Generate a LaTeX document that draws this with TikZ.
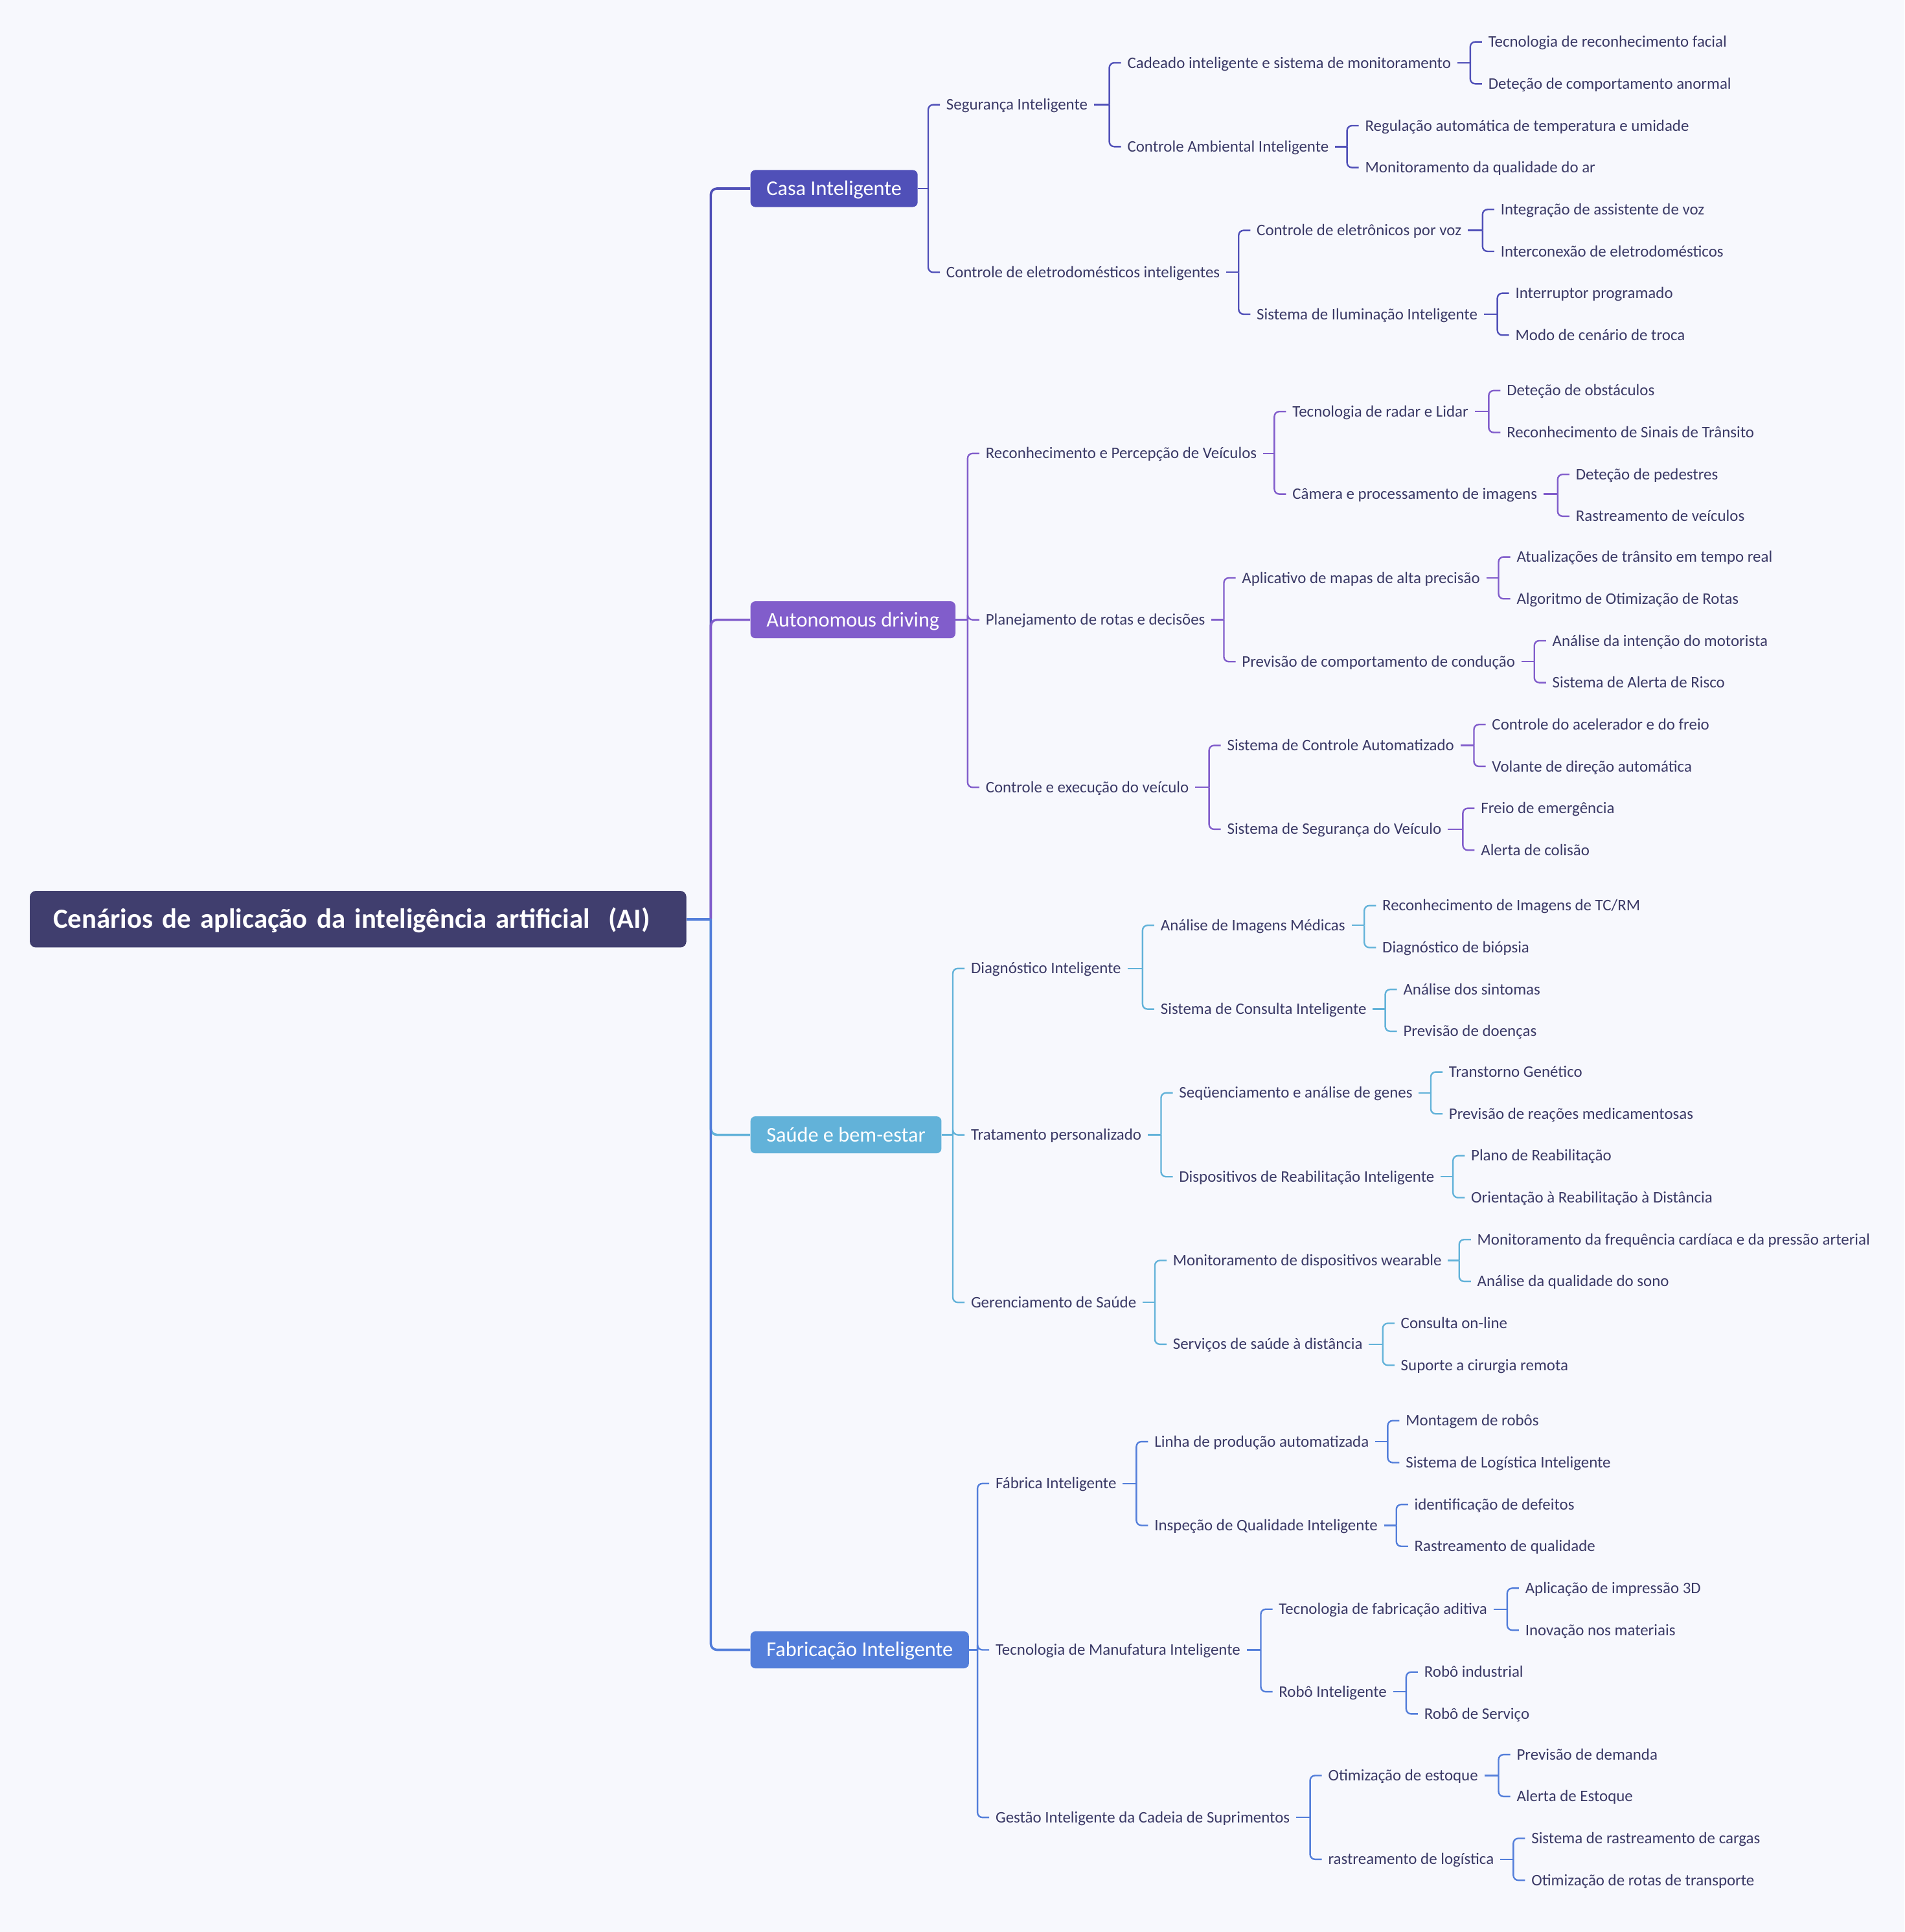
\documentclass[tikz,border=0pt]{standalone}
\usepackage{fontspec}
\setmainfont{Carlito}
\definecolor{bgc}{HTML}{F7F8FD}
\definecolor{rootc}{HTML}{403E6E}
\definecolor{txt}{HTML}{3A3966}
\definecolor{casac}{HTML}{5050B8}
\definecolor{autoc}{HTML}{815DCB}
\definecolor{saudec}{HTML}{62B2D9}
\definecolor{fabc}{HTML}{537EDA}
\tikzset{
  lbl/.style={anchor=west, inner sep=0pt, text height=8.5pt, text depth=0pt, font=\fontsize{13.1}{15}\selectfont, text=txt},
  lone/.style={anchor=west, rounded corners=4pt, minimum height=30pt, inner xsep=13pt, inner ysep=0pt, text height=11pt, text depth=0pt, font=\fontsize{17}{19}\selectfont, text=white},
  rootbox/.style={anchor=west, fill=rootc, rounded corners=5pt, minimum height=46pt, inner xsep=19pt, inner ysep=0pt, text width=495pt, align=left, text height=14.5pt, text depth=0pt, font=\bfseries\fontsize{22.5}{26}\selectfont, text=white},
  trunk/.style={line width=1.9pt, rounded corners=5pt},
  br/.style={line width=1.25pt, rounded corners=4pt},
}
\newcommand\fork[4]{%
  \foreach \kid in {#4}{\coordinate (bx) at ([xshift=-14.5pt]\kid.west);}
  \draw[br,#1] ([xshift=#3]#2.east) -- (#2.east -| bx);
  \foreach \kid in {#4}{\draw[br,#1] (#2.east -| bx) |- ([xshift=-5pt]\kid.west);}
}
\begin{document}
\begin{tikzpicture}[x=1pt,y=-1pt]
\fill[bgc] (0,0) rectangle (1546,1568);
\useasboundingbox (0,0) rectangle (1546,1568);

% root
\node[rootbox] (root) at (24,746) {\mbox{Cenários de aplicação da inteligência artificial\ \ (AI)}};

% level 1
\node[lone,fill=casac] (c) at (609,153) {Casa Inteligente};
\node[lone,fill=autoc] (a) at (609,503) {Autonomous driving};
\node[lone,fill=saudec] (s) at (609,921) {Saúde e bem-estar};
\node[lone,fill=fabc] (f) at (609,1339) {Fabricação Inteligente};

% Casa Inteligente
\node[lbl] (c1) at (768,85) {Segurança Inteligente};
\node[lbl] (c2) at (768,221) {Controle de eletrodomésticos inteligentes};
\node[lbl] (c11) at (915,51) {Cadeado inteligente e sistema de monitoramento};
\node[lbl] (c12) at (915,119) {Controle Ambiental Inteligente};
\node[lbl] (c111) at (1208,34) {Tecnologia de reconhecimento facial};
\node[lbl] (c112) at (1208,68) {Deteção de comportamento anormal};
\node[lbl] (c121) at (1108,102) {Regulação automática de temperatura e umidade};
\node[lbl] (c122) at (1108,136) {Monitoramento da qualidade do ar};
\node[lbl] (c21) at (1020,187) {Controle de eletrônicos por voz};
\node[lbl] (c22) at (1020,255) {Sistema de Iluminação Inteligente};
\node[lbl] (c211) at (1218,170) {Integração de assistente de voz};
\node[lbl] (c212) at (1218,204) {Interconexão de eletrodomésticos};
\node[lbl] (c221) at (1230,238) {Interruptor programado};
\node[lbl] (c222) at (1230,272) {Modo de cenário de troca};

% Autonomous driving
\node[lbl] (a1) at (800,368) {Reconhecimento e Percepção de Veículos};
\node[lbl] (a2) at (800,503) {Planejamento de rotas e decisões};
\node[lbl] (a3) at (800,639) {Controle e execução do veículo};
\node[lbl] (a11) at (1049,334) {Tecnologia de radar e Lidar};
\node[lbl] (a12) at (1049,401) {Câmera e processamento de imagens};
\node[lbl] (a111) at (1223,317) {Deteção de obstáculos};
\node[lbl] (a112) at (1223,351) {Reconhecimento de Sinais de Trânsito};
\node[lbl] (a121) at (1279,385) {Deteção de pedestres};
\node[lbl] (a122) at (1279,419) {Rastreamento de veículos};
\node[lbl] (a21) at (1008,469) {Aplicativo de mapas de alta precisão};
\node[lbl] (a22) at (1008,537) {Previsão de comportamento de condução};
\node[lbl] (a211) at (1231,452) {Atualizações de trânsito em tempo real};
\node[lbl] (a212) at (1231,486) {Algoritmo de Otimização de Rotas};
\node[lbl] (a221) at (1260,520) {Análise da intenção do motorista};
\node[lbl] (a222) at (1260,554) {Sistema de Alerta de Risco};
\node[lbl] (a31) at (996,605) {Sistema de Controle Automatizado};
\node[lbl] (a32) at (996,673) {Sistema de Segurança do Veículo};
\node[lbl] (a311) at (1211,588) {Controle do acelerador e do freio};
\node[lbl] (a312) at (1211,622) {Volante de direção automática};
\node[lbl] (a321) at (1202,656) {Freio de emergência};
\node[lbl] (a322) at (1202,690) {Alerta de colisão};

% Saude e bem-estar
\node[lbl] (s1) at (788,786) {Diagnóstico Inteligente};
\node[lbl] (s2) at (788,921) {Tratamento personalizado};
\node[lbl] (s3) at (788,1057) {Gerenciamento de Saúde};
\node[lbl] (s11) at (942,751) {Análise de Imagens Médicas};
\node[lbl] (s12) at (942,819) {Sistema de Consulta Inteligente};
\node[lbl] (s111) at (1122,735) {Reconhecimento de Imagens de TC/RM};
\node[lbl] (s112) at (1122,769) {Diagnóstico de biópsia};
\node[lbl] (s121) at (1139,803) {Análise dos sintomas};
\node[lbl] (s122) at (1139,837) {Previsão de doenças};
\node[lbl] (s21) at (957,887) {Seqüenciamento e análise de genes};
\node[lbl] (s22) at (957,955) {Dispositivos de Reabilitação Inteligente};
\node[lbl] (s211) at (1176,870) {Transtorno Genético};
\node[lbl] (s212) at (1176,904) {Previsão de reações medicamentosas};
\node[lbl] (s221) at (1194,938) {Plano de Reabilitação};
\node[lbl] (s222) at (1194,972) {Orientação à Reabilitação à Distância};
\node[lbl] (s31) at (952,1023) {Monitoramento de dispositivos wearable};
\node[lbl] (s32) at (952,1091) {Serviços de saúde à distância};
\node[lbl] (s311) at (1199,1006) {Monitoramento da frequência cardíaca e da pressão arterial};
\node[lbl] (s312) at (1199,1040) {Análise da qualidade do sono};
\node[lbl] (s321) at (1137,1074) {Consulta on-line};
\node[lbl] (s322) at (1137,1108) {Suporte a cirurgia remota};

% Fabricacao Inteligente
\node[lbl] (f1) at (808,1204) {Fábrica Inteligente};
\node[lbl] (f2) at (808,1339) {Tecnologia de Manufatura Inteligente};
\node[lbl] (f3) at (808,1475) {Gestão Inteligente da Cadeia de Suprimentos};
\node[lbl] (f11) at (937,1170) {Linha de produção automatizada};
\node[lbl] (f12) at (937,1238) {Inspeção de Qualidade Inteligente};
\node[lbl] (f111) at (1141,1153) {Montagem de robôs};
\node[lbl] (f112) at (1141,1187) {Sistema de Logística Inteligente};
\node[lbl] (f121) at (1148,1221) {identificação de defeitos};
\node[lbl] (f122) at (1148,1255) {Rastreamento de qualidade};
\node[lbl] (f21) at (1038,1306) {Tecnologia de fabricação aditiva};
\node[lbl] (f22) at (1038,1373) {Robô Inteligente};
\node[lbl] (f211) at (1238,1289) {Aplicação de impressão 3D};
\node[lbl] (f212) at (1238,1323) {Inovação nos materiais};
\node[lbl] (f221) at (1156,1357) {Robô industrial};
\node[lbl] (f222) at (1156,1391) {Robô de Serviço};
\node[lbl] (f31) at (1078,1441) {Otimização de estoque};
\node[lbl] (f32) at (1078,1509) {rastreamento de logística};
\node[lbl] (f311) at (1231,1424) {Previsão de demanda};
\node[lbl] (f312) at (1231,1458) {Alerta de Estoque};
\node[lbl] (f321) at (1243,1492) {Sistema de rastreamento de cargas};
\node[lbl] (f322) at (1243,1526) {Otimização de rotas de transporte};

% trunk
\coordinate (TR) at (577,746);
\draw[trunk,casac] (TR) |- (c.west);
\draw[trunk,autoc] (TR) |- (a.west);
\draw[trunk,saudec] (TR) |- (s.west);
\draw[trunk,fabc] (TR) |- (f.west);
\draw[line width=1.9pt,fabc] (root.east) -- (TR);

% Casa brackets
\fork{casac}{c}{0pt}{c1,c2}
\fork{casac}{c1}{5pt}{c11,c12}
\fork{casac}{c11}{5pt}{c111,c112}
\fork{casac}{c12}{5pt}{c121,c122}
\fork{casac}{c2}{5pt}{c21,c22}
\fork{casac}{c21}{5pt}{c211,c212}
\fork{casac}{c22}{5pt}{c221,c222}

% Autonomous brackets
\fork{autoc}{a}{0pt}{a1,a2,a3}
\fork{autoc}{a1}{5pt}{a11,a12}
\fork{autoc}{a11}{5pt}{a111,a112}
\fork{autoc}{a12}{5pt}{a121,a122}
\fork{autoc}{a2}{5pt}{a21,a22}
\fork{autoc}{a21}{5pt}{a211,a212}
\fork{autoc}{a22}{5pt}{a221,a222}
\fork{autoc}{a3}{5pt}{a31,a32}
\fork{autoc}{a31}{5pt}{a311,a312}
\fork{autoc}{a32}{5pt}{a321,a322}

% Saude brackets
\fork{saudec}{s}{0pt}{s1,s2,s3}
\fork{saudec}{s1}{5pt}{s11,s12}
\fork{saudec}{s11}{5pt}{s111,s112}
\fork{saudec}{s12}{5pt}{s121,s122}
\fork{saudec}{s2}{5pt}{s21,s22}
\fork{saudec}{s21}{5pt}{s211,s212}
\fork{saudec}{s22}{5pt}{s221,s222}
\fork{saudec}{s3}{5pt}{s31,s32}
\fork{saudec}{s31}{5pt}{s311,s312}
\fork{saudec}{s32}{5pt}{s321,s322}

% Fabricacao brackets
\fork{fabc}{f}{0pt}{f1,f2,f3}
\fork{fabc}{f1}{5pt}{f11,f12}
\fork{fabc}{f11}{5pt}{f111,f112}
\fork{fabc}{f12}{5pt}{f121,f122}
\fork{fabc}{f2}{5pt}{f21,f22}
\fork{fabc}{f21}{5pt}{f211,f212}
\fork{fabc}{f22}{5pt}{f221,f222}
\fork{fabc}{f3}{5pt}{f31,f32}
\fork{fabc}{f31}{5pt}{f311,f312}
\fork{fabc}{f32}{5pt}{f321,f322}
\end{tikzpicture}
\end{document}
